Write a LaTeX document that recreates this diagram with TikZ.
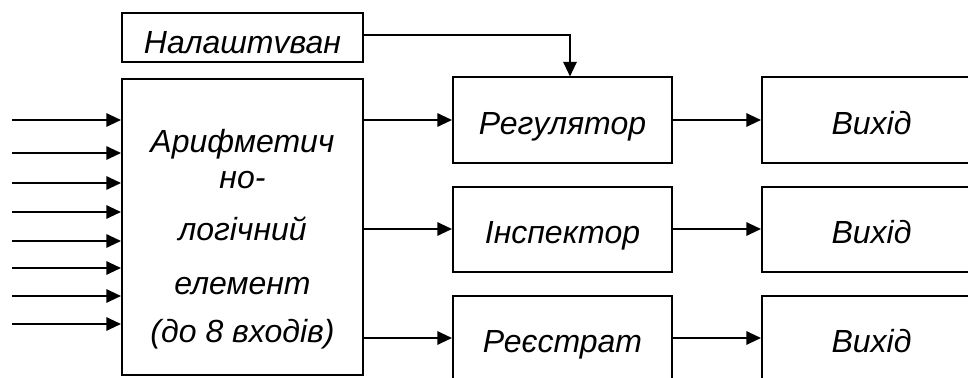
\documentclass[tikz,border=0pt]{standalone}
\usepackage{fontspec}
\setmainfont{Liberation Sans}
\usetikzlibrary{arrows.meta}
\begin{document}
\begin{tikzpicture}[
  x=0.75pt, y=-0.75pt,
  every node/.style={font=\fontsize{24}{28}\selectfont\itshape},
  box/.style={draw, line width=1.5pt, inner sep=0pt},
  rowbox/.style={box, minimum width=219*0.75pt, minimum height=85*0.75pt},
  lbl/.style={anchor=base, inner sep=0pt},
  wire/.style={line width=1.5pt},
  arr/.style={wire, -{Triangle[length=11pt, width=10pt]}}
]
\useasboundingbox (0,0) rectangle (968,378);
\clip (0,0) rectangle (968,378);

% setup block and the arithmetic-logic block
\node[box, minimum width=241*0.75pt, minimum height=49*0.75pt] (nal) at (242.5,37.5) {};
\node[lbl] (nalt) at (242.5,54) {Налаштvван};
\node[box, minimum width=241*0.75pt, minimum height=295*0.75pt] (alu) at (242.5,227) {};
\node[lbl] (t1) at (242.5,152) {Арифметич};
\node[lbl] (t2) at (242.5,188) {но-};
\node[lbl] (t3) at (242.5,240) {логічний};
\node[lbl] (t4) at (242.5,294) {елемент};
\node[lbl] (t5) at (242.5,342) {(до 8 входів)};

% processing blocks
\node[rowbox] (reg) at (562.5,120) {};
\node[rowbox] (insp) at (562.5,229) {};
\node[rowbox] (rst) at (562.5,338) {};
\node[lbl] (regt) at (562.5,135) {Регулятор};
\node[lbl] (inspt) at (562.5,243) {Інспектор};
\node[lbl] (r1) at (562.5,352) {Реєстрат};
\node[lbl] (r2) at (562.5,397) {ор};

% output blocks
\node[rowbox] (out1) at (871.5,120) {};
\node[rowbox] (out2) at (871.5,229) {};
\node[rowbox] (out3) at (871.5,338) {};
\node[lbl] (o1) at (871.5,135) {Вихід};
\node[lbl] (o2) at (871.5,243) {Вихід};
\node[lbl] (o3) at (871.5,352) {Вихід};

% eight inputs
\foreach \i/\yy in {0/120,1/153,2/183,3/212,4/241,5/268,6/296,7/324}{
  \coordinate (in\i) at (12,\yy);
  \draw[arr] (in\i) -- (in\i -| alu.west);
}

% block outputs
\draw[arr] (alu.east |- reg.west) -- (reg.west);
\draw[arr] (alu.east |- insp.west) -- (insp.west);
\draw[arr] (alu.east |- rst.west) -- (rst.west);
\draw[arr] (reg.east) -- (out1.west);
\draw[arr] (insp.east) -- (out2.west);
\draw[arr] (rst.east) -- (out3.west);

% setup line into the regulator
\draw[arr] ([yshift=1.875pt]nal.east) -| ([xshift=7.5*0.75pt]reg.north);
\end{tikzpicture}
\end{document}
